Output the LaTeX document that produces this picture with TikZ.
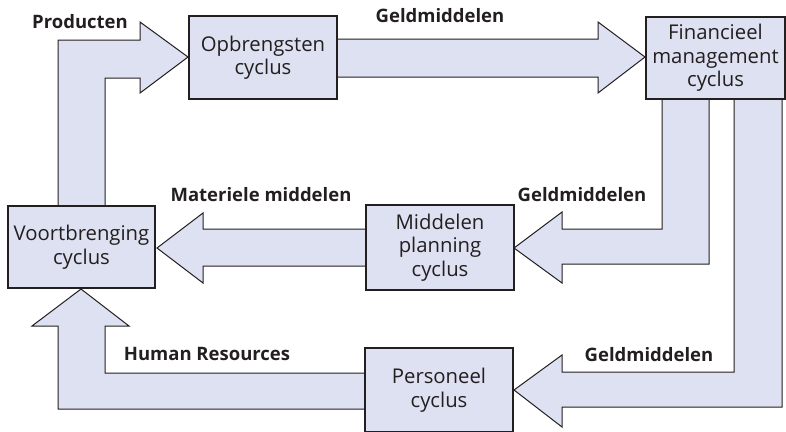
\documentclass[tikz,border=0pt]{standalone}
\usepackage{fontspec}
\setmainfont{Open Sans}
\definecolor{fillc}{RGB}{222,225,241}
\definecolor{ink}{RGB}{35,31,32}
\begin{document}
\begin{tikzpicture}[x=1pt,y=-1pt,
 box/.style={draw=ink,line width=1.5pt,fill=fillc,align=center,text=ink,font=\fontsize{20.3}{23.5}\selectfont,inner sep=0pt},
 blockarrow/.style={draw=ink,line width=1pt,fill=fillc,line join=miter},
 lbl/.style={text=ink,font=\bfseries\fontsize{18.5}{22}\selectfont,inner sep=0pt}]
\useasboundingbox (0,0) rectangle (786,431);
\clip (0,0) rectangle (786,431);
% block arrows
\draw[blockarrow] (58,206) -- (58,40) -- (140,40) -- (140,22) -- (188,57) -- (140,93) -- (140,78) -- (105,78) -- (105,206) -- cycle;
\draw[blockarrow] (337,39) -- (598,39) -- (598,22) -- (645,57) -- (598,93) -- (598,77) -- (337,77) -- cycle;
\draw[blockarrow] (709,99) -- (709,264) -- (562,264) -- (562,283) -- (514,248) -- (562,212) -- (562,229) -- (662,229) -- (662,99) -- cycle;
\draw[blockarrow] (782,99) -- (782,407) -- (562,407) -- (562,427) -- (514,390) -- (562,355) -- (562,372) -- (734,372) -- (734,99) -- cycle;
\draw[blockarrow] (366,229) -- (203,229) -- (203,213) -- (157,248) -- (203,283) -- (203,266) -- (366,266) -- cycle;
\draw[blockarrow] (366,373) -- (105,373) -- (105,326) -- (129,326) -- (81,289) -- (32,326) -- (58,326) -- (58,409) -- (366,409) -- cycle;
% boxes
\node[box,minimum width=148pt,minimum height=83pt] (opb) at (263,57.5) {Opbrengsten\\cyclus};
\node[box,minimum width=139pt,minimum height=82pt] (fin) at (715.5,58) {Financieel\\management\\cyclus};
\node[box,minimum width=147pt,minimum height=82pt] (voo) at (81.5,247) {Voortbrenging\\cyclus};
\node[box,minimum width=148pt,minimum height=85pt] (mid) at (440,247.5) {Middelen\\planning\\cyclus};
\node[box,minimum width=148pt,minimum height=84pt] (per) at (439,390) {Personeel\\cyclus};
% labels
\node[lbl] (l1) at (80,22) {Producten};
\node[lbl] (l2) at (440,16) {Geldmiddelen};
\node[lbl] (l3) at (582,195) {Geldmiddelen};
\node[lbl] (l4) at (261,195) {Materiele middelen};
\node[lbl] (l5) at (207,354) {Human Resources};
\node[lbl] (l6) at (649,355) {Geldmiddelen};
\end{tikzpicture}
\end{document}
